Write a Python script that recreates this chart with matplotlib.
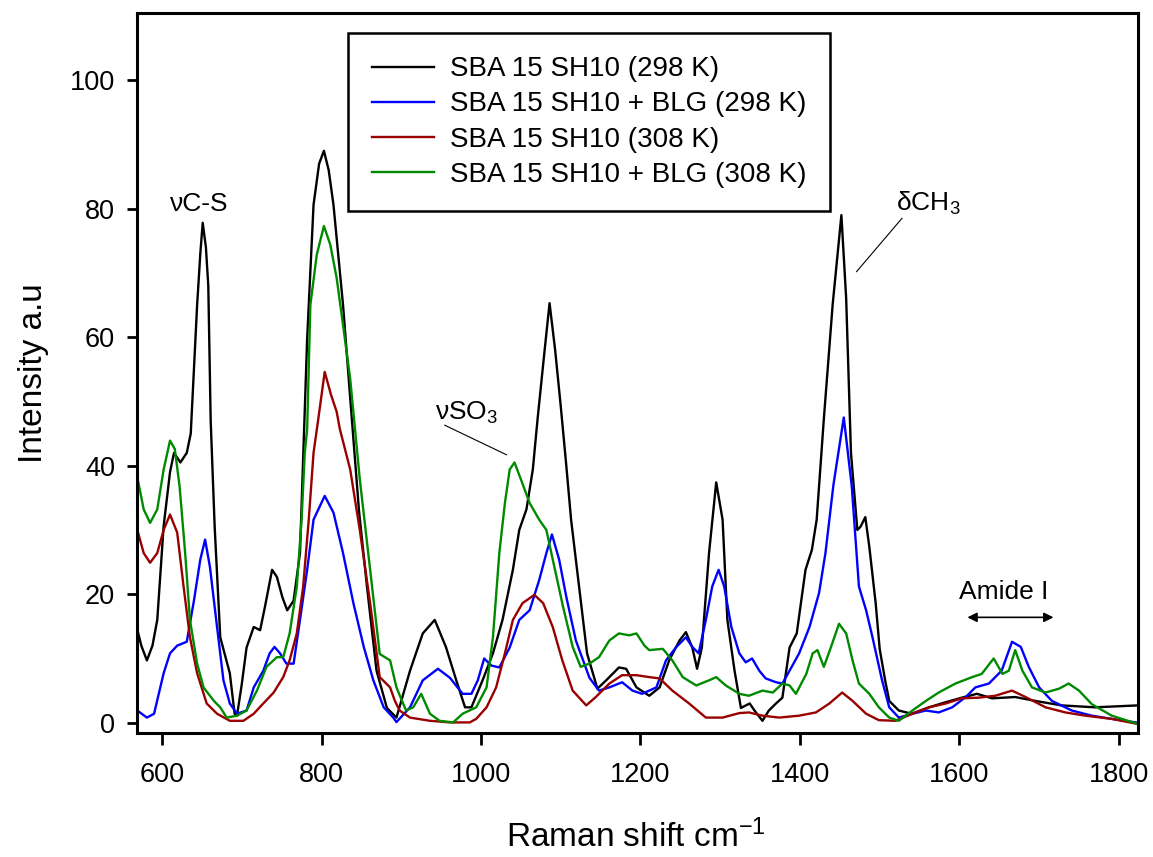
import matplotlib
matplotlib.use("Agg")
import matplotlib.pyplot as plt

plt.rcParams['font.family'] = ['Liberation Sans', 'DejaVu Sans']
plt.rcParams['mathtext.fontset'] = 'custom'
plt.rcParams['mathtext.rm'] = 'Liberation Sans'
plt.rcParams['mathtext.it'] = 'Liberation Sans:italic'
plt.rcParams['mathtext.bf'] = 'Liberation Sans:bold'

labels = ["SBA 15 SH10 (298 K)", "SBA 15 SH10 + BLG (298 K)",
          "SBA 15 SH10 (308 K)", "SBA 15 SH10 + BLG (308 K)"]
colors = ["#000000", "#0000ff", "#990000", "#008a00"]

black_x = [570, 574, 581, 588, 594, 602, 610, 615, 623, 631, 636, 644, 648, 651, 655, 658, 661, 666,
           673, 685, 691, 694, 700, 706, 715, 723, 729, 738, 744, 751, 757, 765, 773, 782, 790, 797,
           803, 809, 815, 827, 838, 847, 857, 869, 882, 894, 911, 927, 942, 956, 969, 980, 988, 1002,
           1015, 1027, 1040, 1048, 1057, 1065, 1071, 1079, 1086, 1093, 1100, 1107, 1113, 1123, 1133,
           1146, 1157, 1173, 1182, 1195, 1211, 1224, 1236, 1249, 1257, 1265, 1271, 1277, 1286, 1295,
           1303, 1309, 1318, 1326, 1337, 1343, 1353, 1361, 1370, 1378, 1387, 1396, 1407, 1415, 1421,
           1430, 1441, 1452, 1458, 1464, 1472, 1476, 1482, 1487, 1495, 1500, 1507, 1512, 1524, 1540,
           1562, 1583, 1603, 1622, 1641, 1670, 1695, 1728, 1770, 1824]
black_y = [14, 12, 9.7, 12, 16, 30.6, 39, 42, 40.5, 42, 45, 65, 73, 77.8, 74, 68, 47, 30.5,
           13.3, 7.7, 1.4, 1.1, 6, 11.7, 14.9, 14.4, 18, 23.8, 22.7, 19.5, 17.5, 19, 26.4, 59.8, 80.6, 87,
           89, 86, 80.6, 65, 47.3, 33, 21.2, 8.1, 2.3, 0.8, 8.1, 13.9, 16, 11.8, 6.6, 2.4, 2.4, 6.6,
           10.8, 16, 23.8, 30, 33.2, 39.4, 47.3, 57, 65.3, 58, 49.3, 40, 31.6, 21.2, 10.8,
           5.3, 6.6, 8.6, 8.4, 5.5, 4.2, 5.5, 9.7, 12.8, 14.1, 11.7, 8.4, 11.7, 26.4, 37.4,
           31.6, 16, 8.1, 2.3, 3, 1.9, 0.3, 1.9, 3, 3.9, 11.7, 13.9, 23.8, 26.9, 31.6,
           47.3, 65, 79, 66, 42, 30, 30.5, 32, 27.4, 18.6, 11.5, 6.5, 3.4, 1.9, 1.4,
           2.4, 3.2, 3.9, 4.5, 3.8, 4, 3.4, 2.7, 2.4, 2.7]

blue_x = [569, 581, 590, 602, 610, 619, 631, 640, 648, 654, 660, 669, 677, 685, 694, 706, 715, 727,
          735, 741, 748, 756, 765, 773, 782, 790, 804, 815, 827, 840, 853, 865, 878, 890, 894, 911,
          927, 946, 961, 977, 988, 996, 1004, 1013, 1023, 1036, 1048, 1061, 1073, 1082, 1089, 1098,
          1107, 1119, 1136, 1148, 1161, 1177, 1190, 1202, 1220, 1232, 1245, 1257, 1265, 1273, 1282,
          1290, 1298, 1305, 1314, 1324, 1332, 1340, 1349, 1357, 1370, 1378, 1387, 1399, 1412, 1424,
          1432, 1442, 1455, 1465, 1474, 1483, 1491, 1503, 1512, 1524, 1541, 1558, 1574, 1591, 1608,
          1620, 1637, 1653, 1666, 1677, 1687, 1700, 1716, 1741, 1766, 1791, 1824]
blue_y = [1.9, 0.8, 1.4, 7.7, 10.8, 12, 12.6, 19, 25.4, 28.5, 24.3, 14.9, 6.6, 3, 1.4, 1.9, 5.5, 8.1,
          10.8, 11.8, 10.8, 9.2, 9.2, 16, 23.8, 31.6, 35.3, 32.7, 26.4, 18.6, 11.8, 6.6, 2.4, 0.8, 0.1, 2.4,
          6.6, 8.4, 7, 4.5, 4.5, 6.6, 10, 8.9, 8.6, 11.7, 16, 17.5, 22.2, 26.4, 29.3, 25.4,
          19.6, 12.8, 7, 5, 5.5, 6.3, 5, 4.5, 5.5, 9.7, 11.8, 13.3, 11.8, 10.8, 16,
          21.2, 23.8, 21.2, 14.9, 10.8, 9.4, 10, 8.1, 6.9, 6.3, 6.1, 8.1, 10.8, 14.9, 20.2,
          26.4, 37, 47.5, 36.8, 21.2, 17.5, 13.3, 6.6, 2.4, 0.8, 1.4, 1.9, 1.6, 2.4, 4,
          5.5, 6.1, 8.1, 12.6, 11.8, 8.7, 5.5, 3.4, 1.9, 1.1, 0.6, 0]

red_x = [569, 577, 585, 594, 602, 610, 619, 627, 635, 644, 656, 669, 685, 702, 715, 727, 740, 752,
         760, 769, 777, 784, 790, 796, 804, 812, 819, 823, 836, 848, 861, 873, 886, 892, 898, 911,
         936, 961, 986, 994, 1007, 1019, 1030, 1040, 1052, 1067, 1078, 1090, 1102, 1115, 1132, 1144,
         1161, 1177, 1195, 1211, 1224, 1240, 1261, 1282, 1303, 1324, 1336, 1353, 1374, 1399, 1420,
         1437, 1453, 1466, 1483, 1499, 1520, 1541, 1562, 1583, 1603, 1624, 1645, 1666, 1683, 1708,
         1733, 1758, 1791, 1824]
red_y = [30, 26.4, 24.9, 26.4, 30, 32.4, 29.6, 21.2, 13.3, 7.7, 3, 1.4, 0.3, 0.3, 1.4, 3, 4.7, 7.1,
         9.7, 13.9, 21.2, 31.6, 42, 47.3, 54.6, 51, 48.4, 45.7, 39.4, 30, 18.6, 7.1, 5.5, 3.4, 1.9, 0.8,
         0.3, 0.05, 0.05, 0.6, 2.4, 5.5, 10.8, 16, 18.6, 19.9, 18.6, 14.9, 9.7, 5, 2.7, 4,
         6.1, 7.4, 7.4, 7.1, 6.9, 5, 3, 0.8, 0.8, 1.5, 1.6, 1.1, 0.8, 1.1, 1.6,
         3, 4.7, 3.4, 1.4, 0.4, 0.3, 1.4, 2.4, 3, 3.8, 3.9, 4.2, 5, 4, 2.4,
         1.6, 1.1, 0.6, -0.2]

green_x = [569, 577, 585, 594, 602, 610, 616, 622, 629, 635, 644, 652, 665, 673, 681, 694, 706, 719,
           731, 744, 752, 760, 769, 775, 779, 782, 786, 794, 803, 811, 819, 827, 836, 842, 848, 861,
           873, 886, 894, 906, 915, 925, 936, 948, 965, 977, 994, 1007, 1015, 1023, 1030, 1036, 1042,
           1050, 1061, 1073, 1082, 1090, 1103, 1115, 1125, 1136, 1148, 1161, 1173, 1186, 1195, 1205,
           1211, 1228, 1240, 1253, 1270, 1286, 1295, 1307, 1324, 1336, 1353, 1366, 1378, 1387, 1395,
           1408, 1416, 1422, 1430, 1439, 1449, 1458, 1466, 1474, 1487, 1499, 1512, 1524, 1541, 1558,
           1574, 1595, 1616, 1628, 1643, 1654, 1662, 1670, 1679, 1691, 1708, 1725, 1737, 1750, 1766,
           1791, 1824]
green_y = [38.2, 33.2, 31.1, 33.2, 39.4, 43.9, 42.6, 36.8, 26.4, 16, 9.2, 5.5, 3.4, 2.4, 0.8, 1.1, 1.9, 5,
           8.7, 10.2, 10.2, 13.9, 21.2, 31.6, 42, 45.7, 65, 72.8, 77.3, 74.4, 69.2, 61.9, 53.5, 45.7, 37.9, 23.8,
           10.7, 9.7, 5.5, 1.9, 2.4, 4.5, 1.4, 0.3, 0.05, 1.4, 2.4, 5.5, 13.3, 26.4, 34.2, 39.4, 40.5,
           37.9, 34.2, 31.6, 30, 25.4, 18, 11.8, 8.7, 9.2, 10.2, 12.8, 13.9, 13.6, 13.9, 12,
           11.3, 11.5, 9.7, 7.1, 5.8, 6.6, 7.1, 5.8, 4.5, 4.2, 5, 4.7, 6.1, 5.8, 4.5,
           7.6, 10.8, 11.3, 8.7, 11.8, 15.4, 13.9, 9.7, 6.1, 4.5, 2.4, 0.8, 0.3, 1.9, 3.4,
           4.7, 6.1, 7.1, 7.6, 10, 7.6, 8.1, 11.3, 8.1, 5.5, 4.7, 5.3, 6.1, 5, 2.9,
           1.1, -0.2]

x_ticks = [600, 800, 1000, 1200, 1400, 1600, 1800]
y_ticks = [0, 20, 40, 60, 80, 100]

fig = plt.figure(figsize=(11.53, 8.57), dpi=100)
ax = fig.add_axes([0.1191, 0.1443, 0.8679, 0.8409])

series = [(black_x, black_y), (blue_x, blue_y), (red_x, red_y), (green_x, green_y)]
for (xs, ys), c, lab in zip(series, colors, labels):
    ax.plot(xs, ys, color=c, lw=1.7, label=lab)

ax.set_xlim(569, 1824)
ax.set_ylim(-1.65, 110.5)
ax.set_xticks(x_ticks)
ax.set_yticks(y_ticks)
ax.tick_params(axis='x', direction='out', length=8.5, width=2, labelsize=19.5, pad=12, top=False)
ax.tick_params(axis='y', direction='out', length=7, width=2, labelsize=19.5, pad=9, right=False)
for s in ax.spines.values():
    s.set_linewidth(2.2)

ax.set_xlabel("Raman shift cm$^{-1}$", fontsize=24)
ax.set_ylabel("Intensity a.u", fontsize=24)
ax.xaxis.set_label_coords(0.498, -0.12)
ax.yaxis.set_label_coords(-0.088, 0.5)

leg = ax.legend(loc='upper left', bbox_to_anchor=(0.2109, 0.9722), borderaxespad=0,
                fontsize=20, handlelength=2.25, handletextpad=0.55, labelspacing=0.33,
                borderpad=0.85, fancybox=False, framealpha=1, edgecolor='black')
leg.get_frame().set_linewidth(1.8)

ax.text(610, 79.6, "νC-S", fontsize=19, ha='left', va='baseline')
ax.text(942, 47.1, "νSO$_3$", fontsize=19, ha='left', va='baseline')
ax.plot([954.6, 1032], [46.3, 41.7], color='black', lw=0.8)
ax.text(1521, 79.7, "δCH$_3$", fontsize=19, ha='left', va='baseline')
ax.plot([1528, 1471], [78.5, 70.2], color='black', lw=0.8)
ax.text(1599, 19.2, "Amide I", fontsize=19, ha='left', va='baseline')
ax.annotate("", xy=(1610, 16.4), xytext=(1718, 16.4),
            arrowprops=dict(arrowstyle='<|-|>', color='black', lw=1.2,
                            mutation_scale=14, shrinkA=0, shrinkB=0))

fig.savefig("out.png", dpi=100)
